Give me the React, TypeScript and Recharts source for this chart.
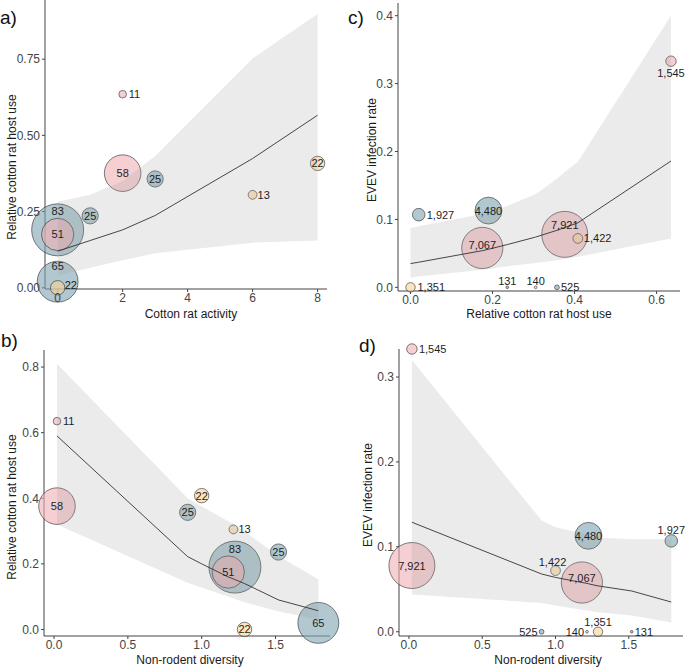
import React from 'react';
import { ComposedChart, Scatter, Area, Line, XAxis, YAxis, ZAxis } from 'recharts';

const FONT = '"Liberation Sans", Arial, Helvetica, sans-serif';
const W = 685;
const H = 667;
const Y_W = 40;
const X_H = 30;

// one entry per site, drawn in this order (blue, pink, cream)
const SITE_GROUP = ['blue', 'blue', 'blue', 'blue', 'pink', 'pink', 'pink', 'cream', 'cream', 'cream'];
const COTTON_RAT_ACTIVITY = [0, 0, 1, 3, 2, 2, 0, 0, 6, 8];
const NON_RODENT_DIVERSITY = [1.225, 1.79, 1.52, 0.905, 0.02, 0.02, 1.18, 1.29, 1.215, 1.0];
const HOST_USE = [0.19, 0.02, 0.236, 0.357, 0.635, 0.376, 0.175, 0.0, 0.305, 0.408];
const BLOODMEAL_N = [83, 65, 25, 25, 11, 58, 51, 22, 13, 22];
const MOSQUITO_N = [4480, 1927, 131, 525, 1545, 7921, 7067, 1351, 140, 1422];
const INFECTION_RATE = [0.113, 0.107, 0, 0, 0.333, 0.078, 0.058, 0, 0, 0.072];

// fitted line and confidence band, per panel
const FIT_A_X = [0, 1, 2, 3, 6, 8];
const FIT_A = [0.12, 0.155, 0.19, 0.237, 0.424, 0.566];
const FIT_A_LO = [0.04, 0.066, 0.09, 0.113, 0.148, 0.155];
const FIT_A_HI = [0.282, 0.305, 0.35, 0.432, 0.752, 0.898];

const FIT_B_X = [0.02, 0.905, 1.0, 1.18, 1.215, 1.225, 1.29, 1.52, 1.79];
const FIT_B = [0.59, 0.222, 0.2, 0.16, 0.154, 0.152, 0.14, 0.09, 0.057];
const FIT_B_LO = [0.32, 0.142, 0.128, 0.1, 0.095, 0.093, 0.083, 0.055, 0.03];
const FIT_B_HI = [0.81, 0.4, 0.375, 0.33, 0.322, 0.318, 0.298, 0.225, 0.152];

const FIT_C_X = [0, 0.02, 0.175, 0.19, 0.236, 0.305, 0.357, 0.376, 0.408, 0.635];
const FIT_C = [0.035, 0.037, 0.054, 0.056, 0.063, 0.074, 0.084, 0.088, 0.095, 0.186];
const FIT_C_LO = [0.014, 0.016, 0.026, 0.027, 0.031, 0.036, 0.04, 0.042, 0.045, 0.072];
const FIT_C_HI = [0.087, 0.09, 0.108, 0.11, 0.12, 0.137, 0.16, 0.17, 0.185, 0.4];

const FIT_D_X = [0.02, 0.905, 1.0, 1.18, 1.215, 1.225, 1.29, 1.52, 1.79];
const FIT_D = [0.129, 0.068, 0.064, 0.058, 0.057, 0.0565, 0.054, 0.048, 0.035];
const FIT_D_LO = [0.044, 0.034, 0.031, 0.026, 0.025, 0.025, 0.023, 0.019, 0.011];
const FIT_D_HI = [0.32, 0.131, 0.123, 0.116, 0.114, 0.113, 0.111, 0.109, 0.109];

// tick labels
const TICKS_A_X = [0, 2, 4, 6, 8];
const TICKS_A_Y = [0, 0.25, 0.5, 0.75];
const TICKS_B_X = [0, 0.5, 1, 1.5];
const TICKS_B_Y = [0, 0.2, 0.4, 0.6, 0.8];
const TICKS_C_X = [0, 0.2, 0.4, 0.6];
const TICKS_C_Y = [0, 0.1, 0.2, 0.3, 0.4];
const TICKS_D_X = [0, 0.5, 1, 1.5];
const TICKS_D_Y = [0, 0.1, 0.2, 0.3];

// label placement next to each bubble: [dx, dy, anchor]
type LabelPos = [number, number, string];
const LABEL_A: LabelPos[] = [[0, -19, 'middle'], [0, -16, 'middle'], [0, 0, 'middle'], [0, 0, 'middle'], [6, 0, 'start'], [0, 0, 'middle'], [0, 0, 'middle'], [7, -3, 'start'], [5, 0, 'start'], [0, 0, 'middle']];
const LABEL_B: LabelPos[] = [[0, -18, 'middle'], [0, 0, 'middle'], [0, 0, 'middle'], [0, 0, 'middle'], [6, 0, 'start'], [0, 0, 'middle'], [0, 0, 'middle'], [0, 0, 'middle'], [5, 0, 'start'], [0, 0, 'middle']];
const LABEL_C: LabelPos[] = [[0, 0, 'middle'], [8, 0, 'start'], [0, -6, 'middle'], [4, 0, 'start'], [0, 12, 'middle'], [0, -9, 'middle'], [0, -3, 'middle'], [7, 0, 'start'], [0, -6, 'middle'], [6, 0, 'start']];
const LABEL_D: LabelPos[] = [[0, 0, 'middle'], [0, -11, 'middle'], [3, 0, 'start'], [-4, 0, 'end'], [7, 0, 'start'], [0, 0, 'middle'], [0, -5, 'middle'], [0, -10, 'middle'], [-3, 0, 'end'], [-3, -9, 'middle']];

const COLORS: Record<string, string> = {
  blue: '#7DA3B1',
  pink: '#F0AFB6',
  cream: '#F8D497',
};

const buildPoints = (xs: number[], ys: number[], zs: number[], texts: string[], labels: LabelPos[]) =>
  xs.map((x, i) => ({
    x,
    y: ys[i],
    z: zs[i],
    group: SITE_GROUP[i],
    text: texts[i],
    dx: labels[i][0],
    dy: labels[i][1],
    anchor: labels[i][2],
  }));

const buildFit = (xs: number[], fit: number[], lo: number[], hi: number[]) =>
  xs.map((x, i) => ({ x, fit: fit[i], band: [lo[i], hi[i]] }));

// ZAxis range is used as a radius in px
const Bubble = (p: any) => (
  <circle
    cx={p.cx}
    cy={p.cy}
    r={Math.max(p.size, 0.5)}
    fill={COLORS[p.payload.group]}
    fillOpacity={0.6}
    stroke="#2a2a2a"
    strokeWidth={0.6}
  />
);

const BubbleLabel = (p: any) => {
  const d = p.payload;
  return (
    <text
      x={p.cx + d.dx}
      y={p.cy + d.dy}
      textAnchor={d.anchor}
      dominantBaseline="central"
      fontSize={11}
      fontFamily={FONT}
      fill="#1e1e1e"
    >
      {d.text}
    </text>
  );
};

type Box = { left: number; right: number; top: number; bottom: number };

function Panel(props: {
  box: Box;
  xDomain: [number, number];
  yDomain: [number, number];
  xTicks: number[];
  yTicks: number[];
  xDigits: number;
  yDigits: number;
  zDomain: [number, number];
  zRange: [number, number];
  points: any[];
  fit: any[];
}) {
  const { box } = props;
  const tickStyle = { fontSize: 12, fill: '#444', fontFamily: FONT };
  return (
    <div style={{ position: 'absolute', left: 0, top: 0 }}>
      <ComposedChart
        width={W}
        height={H}
        margin={{
          top: box.top,
          left: box.left - Y_W,
          right: W - box.right,
          bottom: H - box.bottom - X_H,
        }}
      >
        <XAxis
          type="number"
          dataKey="x"
          domain={props.xDomain}
          ticks={props.xTicks}
          interval={0}
          tickFormatter={(v: number) => v.toFixed(props.xDigits)}
          height={X_H}
          tickSize={3}
          tickMargin={1}
          tick={tickStyle}
          stroke="#444"
          zIndex={50}
        />
        <YAxis
          type="number"
          domain={props.yDomain}
          ticks={props.yTicks}
          interval={0}
          tickFormatter={(v: number) => v.toFixed(props.yDigits)}
          width={Y_W}
          tickSize={3}
          tickMargin={2}
          tick={tickStyle}
          stroke="#444"
          zIndex={50}
        />
        <ZAxis type="number" dataKey="z" domain={props.zDomain} range={props.zRange} />
        <Scatter
          data={props.points}
          dataKey="y"
          shape={Bubble}
          isAnimationActive={false}
          zIndex={90}
        />
        <Area
          data={props.fit}
          dataKey="band"
          type="linear"
          stroke="none"
          fill="#999999"
          fillOpacity={0.2}
          dot={false}
          activeDot={false}
          isAnimationActive={false}
          zIndex={100}
        />
        <Line
          data={props.fit}
          dataKey="fit"
          type="linear"
          stroke="#333"
          strokeWidth={0.9}
          dot={false}
          activeDot={false}
          isAnimationActive={false}
          zIndex={400}
        />
        <Scatter
          data={props.points}
          dataKey="y"
          shape={BubbleLabel}
          isAnimationActive={false}
          zIndex={600}
        />
      </ComposedChart>
    </div>
  );
}

const rodentText = BLOODMEAL_N.map((n) => String(n));
const mosquitoText = MOSQUITO_N.map((n) => n.toLocaleString('en-US'));

const pointsA = buildPoints(COTTON_RAT_ACTIVITY, HOST_USE, BLOODMEAL_N, rodentText, LABEL_A);
const pointsB = buildPoints(NON_RODENT_DIVERSITY, HOST_USE, BLOODMEAL_N, rodentText, LABEL_B);
const pointsC = buildPoints(HOST_USE, INFECTION_RATE, MOSQUITO_N, mosquitoText, LABEL_C);
const pointsD = buildPoints(NON_RODENT_DIVERSITY, INFECTION_RATE, MOSQUITO_N, mosquitoText, LABEL_D);

const titleStyle = { fontSize: 12, fontFamily: FONT, fill: '#1a1a1a' };
const letterStyle = { fontSize: 19, fontFamily: FONT, fill: '#111' };

export default function App() {
  return (
    <div style={{ position: 'absolute', left: 0, top: 0, width: W, height: H, background: '#fff' }}>
      <Panel
        box={{ left: 45, right: 327, top: 0, bottom: 289 }}
        xDomain={[-0.39, 8.29]}
        yDomain={[-0.004, 0.944]}
        xTicks={TICKS_A_X}
        yTicks={TICKS_A_Y}
        xDigits={0}
        yDigits={2}
        zDomain={[11, 83]}
        zRange={[3.8, 26]}
        points={pointsA}
        fit={buildFit(FIT_A_X, FIT_A, FIT_A_LO, FIT_A_HI)}
      />
      <Panel
        box={{ left: 44, right: 330, top: 350, bottom: 636 }}
        xDomain={[-0.068, 1.869]}
        yDomain={[-0.02, 0.852]}
        xTicks={TICKS_B_X}
        yTicks={TICKS_B_Y}
        xDigits={1}
        yDigits={1}
        zDomain={[11, 83]}
        zRange={[3.8, 26]}
        points={pointsB}
        fit={buildFit(FIT_B_X, FIT_B, FIT_B_LO, FIT_B_HI)}
      />
      <Panel
        box={{ left: 398, right: 680, top: 3, bottom: 291 }}
        xDomain={[-0.0305, 0.657]}
        yDomain={[-0.0054, 0.4187]}
        xTicks={TICKS_C_X}
        yTicks={TICKS_C_Y}
        xDigits={1}
        yDigits={1}
        zDomain={[131, 7921]}
        zRange={[1.3, 23]}
        points={pointsC}
        fit={buildFit(FIT_C_X, FIT_C, FIT_C_LO, FIT_C_HI)}
      />
      <Panel
        box={{ left: 399, right: 683, top: 349, bottom: 636 }}
        xDomain={[-0.068, 1.87]}
        yDomain={[-0.005, 0.333]}
        xTicks={TICKS_D_X}
        yTicks={TICKS_D_Y}
        xDigits={1}
        yDigits={1}
        zDomain={[131, 7921]}
        zRange={[1.3, 23]}
        points={pointsD}
        fit={buildFit(FIT_D_X, FIT_D, FIT_D_LO, FIT_D_HI)}
      />
      <svg
        width={W}
        height={H}
        style={{ position: 'absolute', left: 0, top: 0, pointerEvents: 'none' }}
      >
        <text x={0} y={24} {...letterStyle}>a)</text>
        <text x={1} y={347} {...letterStyle}>b)</text>
        <text x={348} y={24} {...letterStyle}>c)</text>
        <text x={359} y={352} {...letterStyle}>d)</text>

        <text x={191} y={318} textAnchor="middle" {...titleStyle}>Cotton rat activity</text>
        <text x={190} y={664} textAnchor="middle" {...titleStyle}>Non-rodent diversity</text>
        <text x={539} y={318} textAnchor="middle" {...titleStyle}>Relative cotton rat host use</text>
        <text x={548} y={664} textAnchor="middle" {...titleStyle}>Non-rodent diversity</text>

        <text x={12} y={167} transform="rotate(-90, 12, 167)" textAnchor="middle" dominantBaseline="central" {...titleStyle}>
          Relative cotton rat host use
        </text>
        <text x={12} y={507} transform="rotate(-90, 12, 507)" textAnchor="middle" dominantBaseline="central" {...titleStyle}>
          Relative cotton rat host use
        </text>
        <text x={372} y={150} transform="rotate(-90, 372, 150)" textAnchor="middle" dominantBaseline="central" {...titleStyle}>
          EVEV infection rate
        </text>
        <text x={368} y={495} transform="rotate(-90, 368, 495)" textAnchor="middle" dominantBaseline="central" {...titleStyle}>
          EVEV infection rate
        </text>
      </svg>
    </div>
  );
}
